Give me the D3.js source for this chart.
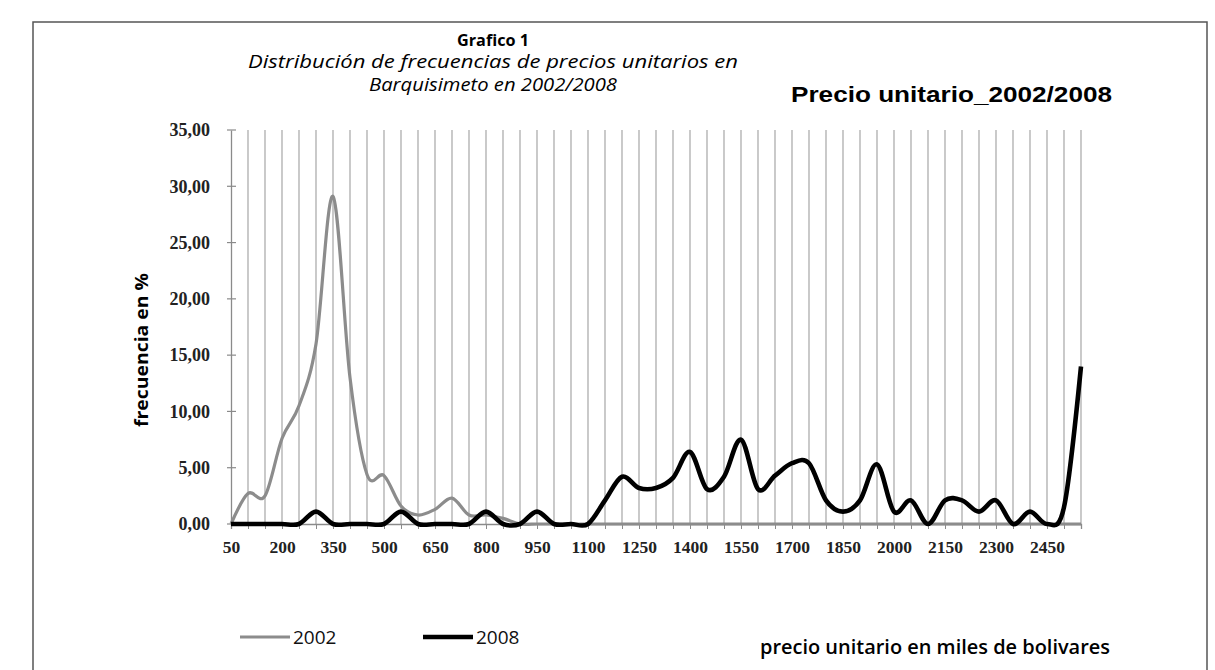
<!DOCTYPE html>
<html><head><meta charset="utf-8">
<script src="https://cdn.jsdelivr.net/npm/d3@7"></script>
<style>html,body{margin:0;padding:0;background:#fff;}svg{display:block;}</style>
</head><body>
<script>
// ---- data ----
const categories = [50,100,150,200,250,300,350,400,450,500,550,600,650,700,750,800,850,900,950,1000,1050,1100,1150,1200,1250,1300,1350,1400,1450,1500,1550,1600,1650,1700,1750,1800,1850,1900,1950,2000,2050,2100,2150,2200,2250,2300,2350,2400,2450,2500,2550];
const values2002 = [0,2.7,2.5,7.6,10.5,16,29.1,13.0,4.4,4.3,1.6,0.8,1.3,2.3,0.8,0.8,0.5,0,0,0,0,0,0,0,0,0,0,0,0,0,0,0,0,0,0,0,0,0,0,0,0,0,0,0,0,0,0,0,0,0,0];
const values2008 = [0,0,0,0,0,1.1,0,0,0,0,1.1,0,0,0,0,1.1,0,0,1.1,0,0,0,2.1,4.2,3.2,3.2,4.1,6.4,3.1,4.2,7.5,3.1,4.3,5.4,5.4,2.1,1.1,2.1,5.3,1.1,2.1,0,2.1,2.1,1.1,2.1,0,1.1,0,1.5,14.0];
const xTickLabels = [50,200,350,500,650,800,950,1100,1250,1400,1550,1700,1850,2000,2150,2300,2450];
const yTicks = [0,5,10,15,20,25,30,35];
const seriesNames = ["2002","2008"];

const svg = d3.select("body").append("svg").attr("width",1215).attr("height",670);

// frame
svg.append("rect").attr("x",33).attr("y",22).attr("width",1174).attr("height",700)
  .attr("fill","none").attr("stroke","#555").attr("stroke-width",1.5);

const x = d3.scalePoint().domain(categories).range([231,1081]);
const y = d3.scaleLinear().domain([0,35]).range([524,130]);

// vertical gridlines
svg.append("g").selectAll("line").data(categories.slice(1)).join("line")
  .attr("x1",d=>x(d)).attr("x2",d=>x(d)).attr("y1",y(35)).attr("y2",y(0))
  .attr("stroke","#adadad").attr("stroke-width",1.3);

// y axis
const ya = svg.append("g").attr("transform","translate(231,0)")
  .call(d3.axisLeft(y).tickValues(yTicks).tickSize(0).tickPadding(21)
    .tickFormat(d=>d.toFixed(2).replace(".",",")));
ya.select(".domain").attr("stroke","#8a8a8a").attr("stroke-width",1.3);
ya.selectAll("text").attr("font-family","Liberation Serif").attr("font-weight","bold")
  .attr("font-size",18).attr("fill","#222");
svg.append("g").selectAll("line").data(yTicks).join("line")
  .attr("x1",227).attr("x2",236).attr("y1",d=>y(d)).attr("y2",d=>y(d))
  .attr("stroke","#8a8a8a").attr("stroke-width",1.2);

// x axis
const xa = svg.append("g").attr("transform","translate(0,524)")
  .call(d3.axisBottom(x).tickValues(categories).tickSize(5).tickFormat(""));
xa.select(".domain").attr("stroke","#8a8a8a").attr("stroke-width",1.3);
xa.selectAll(".tick line").attr("stroke","#8a8a8a");
const xl = svg.append("g").attr("transform","translate(0,524)")
  .call(d3.axisBottom(x).tickValues(xTickLabels).tickSize(0).tickPadding(17));
xl.select(".domain").remove();
xl.selectAll("text").attr("font-family","Liberation Serif").attr("font-weight","bold")
  .attr("font-size",17.5).attr("fill","#222");

// lines
const line = d3.line().x((d,i)=>x(categories[i])).y(d=>y(d)).curve(d3.curveCatmullRom.alpha(0));
svg.append("path").datum(values2002).attr("d",line).attr("fill","none")
  .attr("stroke","#8c8c8c").attr("stroke-width",3.2).attr("stroke-linejoin","round");
svg.append("path").datum(values2008).attr("d",line).attr("fill","none")
  .attr("stroke","#000").attr("stroke-width",4.6).attr("stroke-linejoin","round");

// titles
svg.append("text").attr("x",493).attr("y",46).attr("text-anchor","middle")
  .attr("font-family","Open Sans").attr("font-weight","bold").attr("font-size",16)
  .attr("textLength",72).attr("lengthAdjust","spacingAndGlyphs").text("Grafico 1");
svg.append("text").attr("x",493).attr("y",68).attr("text-anchor","middle")
  .attr("font-family","Open Sans").attr("font-style","italic").attr("font-size",18)
  .attr("textLength",490).attr("lengthAdjust","spacingAndGlyphs").text("Distribución de frecuencias de precios unitarios en");
svg.append("text").attr("x",493).attr("y",91).attr("text-anchor","middle")
  .attr("font-family","Open Sans").attr("font-style","italic").attr("font-size",18)
  .attr("textLength",248).attr("lengthAdjust","spacingAndGlyphs").text("Barquisimeto en 2002/2008");
svg.append("text").attr("x",791).attr("y",102)
  .attr("font-family","Liberation Sans").attr("font-weight","bold").attr("font-size",22)
  .attr("textLength",321).attr("lengthAdjust","spacingAndGlyphs").text("Precio unitario_2002/2008");

// y axis title
svg.append("text").attr("transform","translate(148,350) rotate(-90)").attr("text-anchor","middle")
  .attr("font-family","Open Sans").attr("font-weight","bold").attr("font-size",18)
  .attr("textLength",154).attr("lengthAdjust","spacingAndGlyphs").text("frecuencia en %");

// x axis title
svg.append("text").attr("x",760).attr("y",654)
  .attr("font-family","Open Sans").attr("font-weight","600").attr("font-size",19)
  .attr("textLength",350).attr("lengthAdjust","spacingAndGlyphs").text("precio unitario en miles de bolivares");

// legend
const leg = [{n:seriesNames[0],c:"#8c8c8c",w:3.2,x:240},{n:seriesNames[1],c:"#000",w:4.6,x:423}];
leg.forEach(l=>{
  svg.append("line").attr("x1",l.x).attr("x2",l.x+50).attr("y1",637).attr("y2",637)
    .attr("stroke",l.c).attr("stroke-width",l.w);
  svg.append("text").attr("x",l.x+53).attr("y",644).attr("font-family","Open Sans")
    .attr("font-size",19).attr("fill","#111").text(l.n);
});
</script>
</body></html>
